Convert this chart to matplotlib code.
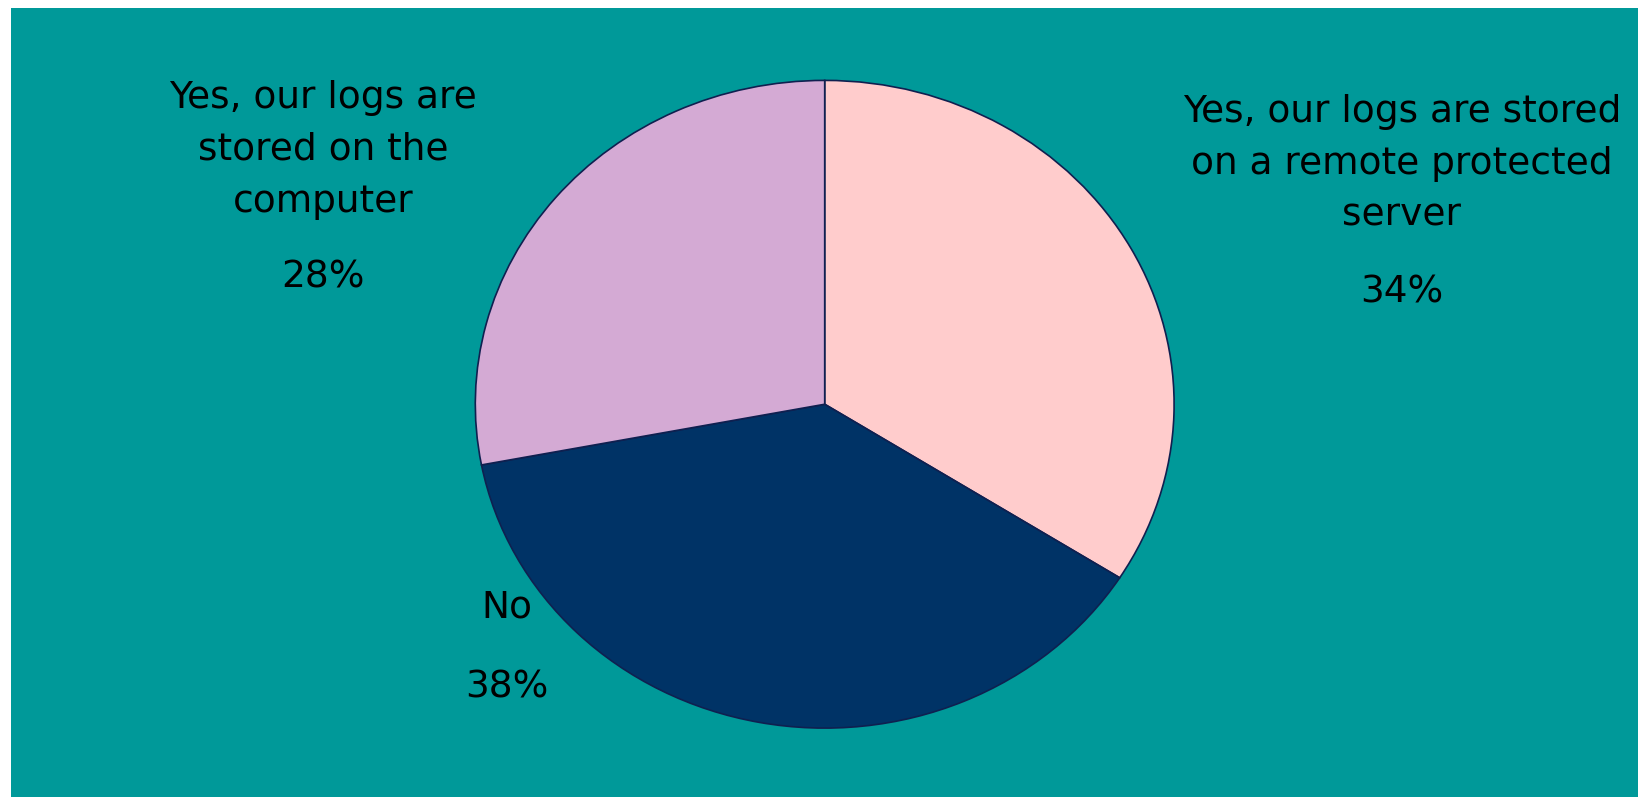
#!/usr/bin/env python3
"""Pie chart: where logs are stored."""

import matplotlib

matplotlib.use("Agg")
import matplotlib.pyplot as plt
from matplotlib.patches import Rectangle

W, H = 1638, 797

categories = [
    "Yes, our logs are stored\non a remote protected\nserver",
    "No",
    "Yes, our logs are\nstored on the\ncomputer",
]
shares = [34, 38, 28]
colors = ["#FFCCCC", "#003366", "#D4AAD4"]

# label anchor (pixel x, pixel y of first line) for each category
label_pos = [(1402, 112), (507, 607), (323, 98)]
pct_pos = [(1402, 292), (507, 688), (323, 278)]
LINE_STEP = 52


def fx(px):
    return px / W


def fy(py):
    return 1 - py / H


fig = plt.figure(figsize=(W / 100, H / 100), dpi=100)
fig.patch.set_facecolor("white")
fig.patches.append(
    Rectangle((fx(11), 0), 1, fy(8), transform=fig.transFigure, facecolor="#009999", edgecolor="none", zorder=-5)
)

left, right, top, bottom = 475.3, 1174.1, 80.4, 728.1
ax = fig.add_axes([fx(left), fy(bottom), fx(right - left), (bottom - top) / H])
ax.set_zorder(2)
ax.patch.set_alpha(0)
ax.pie(
    shares,
    colors=colors,
    startangle=90,
    counterclock=False,
    radius=1.0,
    wedgeprops=dict(edgecolor="#0f2050", linewidth=1.2),
)
ax.set_aspect("auto")
ax.set_xlim(-1, 1)
ax.set_ylim(-1, 1)
ax.axis("off")

font = dict(family="DejaVu Sans", fontsize=27, color="black", ha="center", va="center", zorder=3)
for name, share, (lx, ly), (px, py) in zip(categories, shares, label_pos, pct_pos):
    for i, line in enumerate(name.split("\n")):
        fig.text(fx(lx), fy(ly + i * LINE_STEP), line, **font)
    fig.text(fx(px), fy(py), f"{share}%", **font)

fig.savefig("out.png", dpi=100, facecolor=fig.get_facecolor())
